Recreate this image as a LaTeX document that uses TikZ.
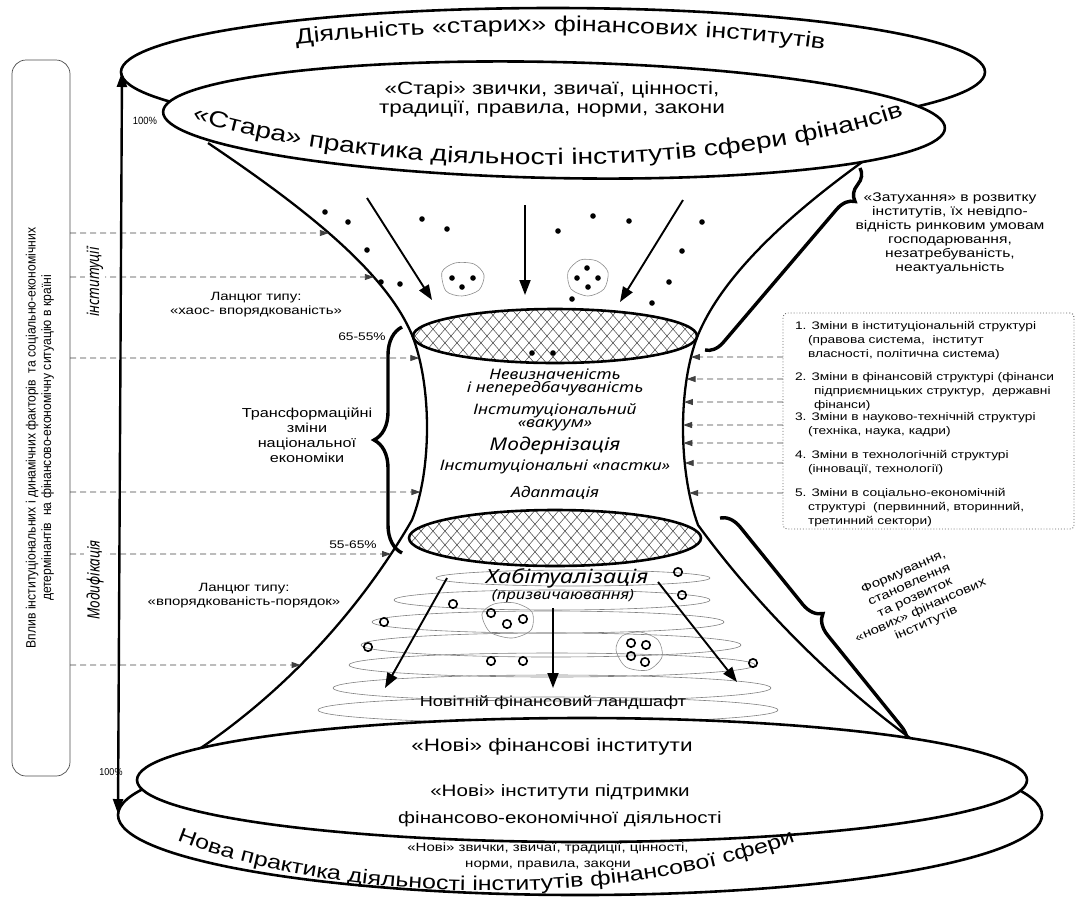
\documentclass[tikz,border=0pt]{standalone}
\usepackage{fontspec}
\setmainfont{Liberation Sans}[FakeStretch=1.25]
\newfontfamily\itf{Noto Sans}[FakeStretch=1.2]
\newfontfamily\nrw{Liberation Sans}[FakeStretch=0.9]
\newfontfamily\cnd{Noto Sans}[FakeStretch=0.8]
\usetikzlibrary{arrows.meta,decorations.text,decorations.pathreplacing,intersections}
\begin{document}
\begin{tikzpicture}[x=1pt,y=-1pt,
  every node/.style={inner sep=0pt,outer sep=0pt},
  fl/.style={line width=2.3pt},
  ell/.style={line width=2.6pt,fill=white},
  bigarrow/.style={line width=1.9pt,-{Triangle[length=15pt,width=11pt]}},
  darrow/.style={line width=0.9pt,draw=black!75,dash pattern=on 6pt off 4pt,-{Triangle[length=9pt,width=6pt]}},
  coil/.style={draw=black!50,line width=0.6pt},
  blob/.style={draw=black!45,line width=0.6pt},
  hatchl/.style={draw=black!70,line width=0.55pt},
  bracel/.style={line width=3.4pt,decorate},
  oring/.style={draw=black,line width=1.6pt},
  itl/.style={font=\itf\itshape\fontsize{14.5}{16}\selectfont},
]
\useasboundingbox (0,0) rectangle (1078,898);

% ---------- left box ----------
\node[draw=black!70,line width=0.7pt,rounded corners=14pt,minimum width=58pt,minimum height=716pt] (lbox) at (41,418) {};
\node[rotate=90,align=center,font=\nrw\fontsize{13.5}{15.5}\selectfont] (ltext) at (40,438)
 {Вплив інституціональних і динамічних факторів\ \ та соціально-економічних\\детермінантів\ \ на фінансово-економічну ситуацію в країні};

% ---------- top outer ellipse ----------
\draw[ell] (553,72) ellipse [x radius=432,y radius=64];
\path[decorate,decoration={text along path,text align=center,
  text={|\fontsize{21.5}{23}\selectfont|Діяльність «старих» фінансових інститутів}}]
  (262,49) .. controls (430,25) and (690,25) .. (858,55);

% ---------- funnel ----------
\draw[fl,name path=lf] (208,143) .. controls (300,205) and (385,270) .. (412,335)
  .. controls (432,385) and (432,470) .. (412,520)
  .. controls (360,610) and (280,700) .. (176,764);
\draw[fl,name path=rf] (882,148) .. controls (800,205) and (725,270) .. (698,335)
  .. controls (678,385) and (678,470) .. (698,525)
  .. controls (760,610) and (850,700) .. (942,760);

% ---------- braces ----------
\draw[bracel,decoration={brace,amplitude=28pt,aspect=0.5}] (402,553) -- (402,327);
\draw[bracel,decoration={brace,amplitude=18pt,aspect=0.12}] (860,168) -- (705,350);
\draw[bracel,decoration={brace,amplitude=20pt,aspect=0.47}] (720,518) -- (906,748);

% ---------- top inner ellipse ----------
\draw[ell,rotate around={-1.2:(554,120)}] (554,120) ellipse [x radius=391,y radius=58];
\node[font=\fontsize{18}{19}\selectfont,align=center] (oldh) at (552,99)
 {«Старі» звички, звичаї, цінності,\\традиції, правила, норми, закони};
\path[decorate,decoration={text along path,text align=center,
  text={|\fontsize{22.5}{24}\selectfont|«Стара» практика діяльності інститутів сфери фінансів}}]
  (180,116) .. controls (380,182) and (720,182) .. (915,112);

% ---------- coils ----------
\draw[coil] (573,578) ellipse [x radius=137,y radius=8];
\draw[coil] (552,600) ellipse [x radius=158,y radius=10];
\draw[coil] (548,622) ellipse [x radius=176,y radius=11];
\draw[coil] (551,645) ellipse [x radius=190,y radius=12];
\draw[coil] (552,665) ellipse [x radius=203,y radius=12];
\draw[coil] (552,688) ellipse [x radius=219,y radius=13];
\draw[coil] (548,710) ellipse [x radius=230,y radius=13];

% ---------- hatched ellipses ----------
\begin{scope}
  \clip (555,336) ellipse [x radius=142,y radius=27];
  \fill[white] (400,300) rectangle (710,372);
  \foreach \i in {-200,-188,...,200}{
    \draw[hatchl] ({555+\i-26},306) -- ({555+\i+26},366);
    \draw[hatchl] ({555+\i+26},306) -- ({555+\i-26},366);
  }
\end{scope}
\draw[line width=2.6pt] (555,336) ellipse [x radius=142,y radius=27];
\begin{scope}
  \clip (555,538) ellipse [x radius=146,y radius=28];
  \fill[white] (400,500) rectangle (710,575);
  \foreach \i in {-200,-188,...,200}{
    \draw[hatchl] ({555+\i-26},508) -- ({555+\i+26},568);
    \draw[hatchl] ({555+\i+26},508) -- ({555+\i-26},568);
  }
\end{scope}
\draw[line width=2.6pt] (555,538) ellipse [x radius=146,y radius=28];

% ---------- barrel texts ----------
\node[itl] (t1) at (555,374) {Невизначеність};
\node[itl] (t2) at (555,389) {і непередбачуваність};
\node[itl] (t3) at (555,411) {Інституціональний};
\node[itl] (t4) at (555,425) {«вакуум»};
\node[font=\itf\itshape\fontsize{17.5}{19}\selectfont] (t5) at (555,446) {Модернізація};
\node[itl] (t6) at (555,467) {Інституціональні «пастки»};
\node[itl] (t7) at (555,493) {Адаптація};

% ---------- dots (top) ----------
\foreach \p in {(325,212),(348,222),(367,250),(381,282),(400,284),(422,219),(447,229),
  (558,231),(593,216),(629,221),(702,222),(682,251),(669,282),(572,299),(652,303),
  (532,353),(553,353),(452,278),(473,278),(462,287),(587,268),(577,278),(598,278),(588,287)}
  \fill \p circle [radius=2.8];
\draw[blob] plot[smooth cycle] coordinates {(442,272) (455,263) (474,264) (484,275) (479,290) (462,296) (446,291)};
\draw[blob] plot[smooth cycle] coordinates {(568,272) (580,260) (597,261) (608,272) (604,289) (588,296) (571,289)};

% ---------- top arrows ----------
\coordinate (a1s) at (367,198); \coordinate (a1e) at (432,300);
\coordinate (a2s) at (525,205); \coordinate (a2e) at (525,295);
\coordinate (a3s) at (683,200); \coordinate (a3e) at (620,302);
\draw[bigarrow] (a1s) -- (a1e);
\draw[bigarrow] (a2s) -- (a2e);
\draw[bigarrow] (a3s) -- (a3e);

% ---------- lower part ----------
\node[font=\itf\itshape\fontsize{19.5}{21}\selectfont] (hab) at (567,578) {Хабітуалізація};
\node[font=\itf\itshape\fontsize{14}{15}\selectfont] (habp) at (563,596) {(призвичаювання)};
\foreach \p in {(678,572),(682,595),(453,604),(384,622),(368,647),(491,613),(507,624),(523,619),
  (631,643),(646,645),(631,656),(645,662),(491,661),(523,661),(753,663)}
  \draw[oring] \p circle [radius=4.2];
\draw[blob] plot[smooth cycle] coordinates {(482,614) (494,604) (515,603) (532,612) (531,630) (512,638) (490,632)};
\draw[blob] plot[smooth cycle] coordinates {(616,650) (622,636) (640,632) (658,640) (662,657) (648,670) (626,667)};
\coordinate (b1s) at (447,578); \coordinate (b1e) at (385,688);
\coordinate (b2s) at (553,608); \coordinate (b2e) at (553,688);
\coordinate (b3s) at (658,582); \coordinate (b3e) at (737,682);
\draw[bigarrow] (b1s) -- (b1e);
\draw[bigarrow] (b2s) -- (b2e);
\draw[bigarrow] (b3s) -- (b3e);
\node[font=\fontsize{14.5}{16}\selectfont] (land) at (553,703) {Новітній фінансовий ландшафт};

% ---------- dashed arrows left ----------
\foreach \yy/\nm in {233/a,277/b,358/c,492/d,554/e,665/f}{
  \path[name path=hl] (60,\yy) -- (520,\yy);
  \path[name intersections={of=lf and hl,by={L\nm}}];
  \draw[darrow] (lbox.east |- 0,\yy) -- (L\nm);
}

% ---------- right box ----------
\node[draw=black!60,dotted,line width=0.9pt,rounded corners=4pt,minimum width=291pt,minimum height=216pt,anchor=north west] (rbox) at (783,313) {};
\foreach \yy/\nm in {357/a,379/b,402/c,425/d,443/e,463/f,493/g}{
  \path[name path=hr] (1000,\yy) -- (600,\yy);
  \path[name intersections={of=rf and hr,by={R\nm}}];
  \draw[darrow] (rbox.west |- 0,\yy) -- (R\nm);
}
\node[anchor=north west,align=left,font=\fontsize{11}{14}\selectfont] (i1) at (795,321)
 {1. Зміни в інституціональній структурі\\\hspace*{13pt}(правова система,\ \ інститут\\\hspace*{13pt}власності, політична система)};
\node[anchor=north west,align=left,font=\fontsize{11}{14}\selectfont] (i2) at (795,372)
 {2. Зміни в фінансовій структурі (фінанси\\\hspace*{19pt}підприємницьких структур,\ \ державні\\\hspace*{19pt}фінанси)};
\node[anchor=north west,align=left,font=\fontsize{11}{14}\selectfont] (i3) at (795,412)
 {3. Зміни в науково-технічній структурі\\\hspace*{13pt}(техніка, наука, кадри)};
\node[anchor=north west,align=left,font=\fontsize{11}{14}\selectfont] (i4) at (795,450)
 {4. Зміни в технологічній структурі\\\hspace*{13pt}(інновації, технології)};
\node[anchor=north west,align=left,font=\fontsize{11}{14}\selectfont] (i5) at (795,488)
 {5. Зміни в соціально-економічній\\\hspace*{13pt}структурі\ \ (первинний, вторинний,\\\hspace*{13pt}третинний сектори)};

% ---------- rotated side labels ----------
\node[rotate=90,fill=white,inner sep=2pt,font=\cnd\bfseries\itshape\fontsize{17}{18}\selectfont] (inst) at (95,282) {інституції};
\node[rotate=90,fill=white,inner sep=2pt,font=\cnd\bfseries\itshape\fontsize{17}{18}\selectfont] (modf) at (95,580) {Модифікація};

% ---------- left texts ----------
\node[align=center,font=\fontsize{12}{14}\selectfont] (ch1) at (256,305) {Ланцюг типу:\\«хаос- впорядкованість»};
\node[font=\fontsize{11}{12}\selectfont] (p1) at (362,337) {65-55\%};
\node[align=center,font=\fontsize{13}{15}\selectfont] (trans) at (307,435) {Трансформаційні\\зміни\\національної\\економіки};
\node[font=\fontsize{11}{12}\selectfont] (p2) at (353,545) {55-65\%};
\node[align=center,font=\fontsize{12}{14}\selectfont] (ch2) at (244,596) {Ланцюг типу:\\«впорядкованість-порядок»};

% ---------- right texts ----------
\node[align=center,font=\fontsize{12.5}{14}\selectfont] (zat) at (950,233)
 {«Затухання» в розвитку\\інститутів, їх невідпо-\\відність ринковим умовам\\господарювання,\\незатребуваність,\\неактуальність};
\node[rotate=24,align=center,font=\fontsize{12}{14}\selectfont] (form) at (915,598)
 {Формування,\\становлення\\та розвиток\\«нових» фінансових\\інститутів};

% ---------- bottom ellipses ----------
\draw[ell] (580,815) ellipse [x radius=462,y radius=80];
\draw[ell] (582,780) ellipse [x radius=445,y radius=62];
\node[font=\fontsize{18}{20}\selectfont] (nfi) at (552,747) {«Нові» фінансові інститути};
\node[align=center,font=\fontsize{16.5}{27}\selectfont] (nip) at (560,806) {«Нові» інститути підтримки\\фінансово-економічної діяльності};
\node[align=center,font=\fontsize{12}{16}\selectfont] (nzv) at (548,856) {«Нові» звички, звичаї, традиції, цінності,\\норми, правила, закони};
\path[decorate,decoration={text along path,text align=center,
  text={|\fontsize{20}{22}\selectfont|Нова практика діяльності інститутів фінансової сфери}}]
  (158,832) .. controls (330,910) and (640,910) .. (814,834);

% ---------- vertical arrow ----------
\coordinate (vt) at (122,72);
\coordinate (vb) at (118,814);
\draw[line width=2.4pt,{Triangle[length=15pt,width=10pt]}-{Triangle[length=15pt,width=10pt]}] (vb) -- (vt);
\node[font=\nrw\fontsize{10.5}{11}\selectfont] (pc1) at (145,121) {100\%};
\node[font=\nrw\fontsize{10}{11}\selectfont] (pc2) at (111,772) {100\%};
\end{tikzpicture}
\end{document}
